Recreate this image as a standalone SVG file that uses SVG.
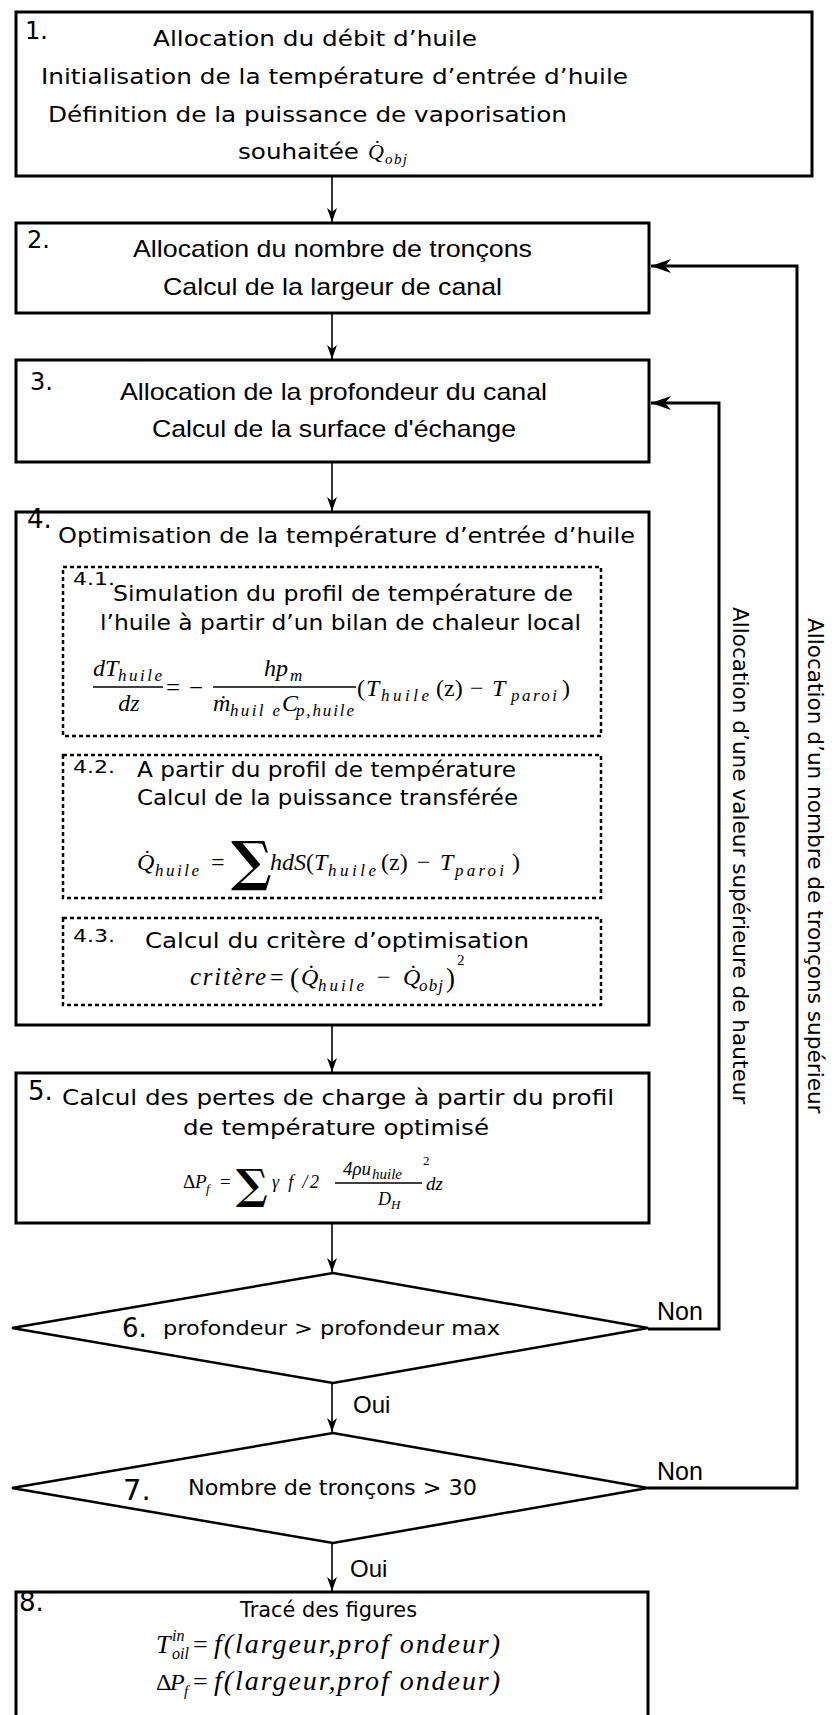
<svg xmlns="http://www.w3.org/2000/svg" width="835" height="1715" viewBox="0 0 835 1715">
<style>
.box{fill:#fff;stroke:#000;stroke-width:3}
.dash{fill:none;stroke:#000;stroke-width:2.5;stroke-dasharray:4 3}
.dia{fill:#fff;stroke:#000;stroke-width:2.5}
.thin{fill:none;stroke:#000;stroke-width:1.6}
.thick{fill:none;stroke:#000;stroke-width:3}
.v{font-family:"DejaVu Sans",Verdana,sans-serif;fill:#000}
.a{font-family:"Liberation Sans",Arial,sans-serif;fill:#000}
.m{font-family:"Liberation Serif","Times New Roman",serif;font-style:italic;fill:#000}
.r{font-family:"Liberation Serif","Times New Roman",serif;fill:#000}
.sig{font-family:"DejaVu Serif",serif;font-weight:bold;fill:#000}
.bar{stroke:#000;stroke-width:1.3}
</style>
<defs>
<marker id="ah" viewBox="0 0 14 10" refX="14" refY="5" markerWidth="14" markerHeight="10" markerUnits="userSpaceOnUse" orient="auto"><path d="M0,0 L14,5 L0,10 L4,5 Z" fill="#000"/></marker>
<marker id="ahb" viewBox="0 0 20 14" refX="20" refY="7" markerWidth="20" markerHeight="14" markerUnits="userSpaceOnUse" orient="auto"><path d="M0,0 L20,7 L0,14 L6,7 Z" fill="#000"/></marker>
</defs>

<g id="connectors">
<line class="thin" x1="332" y1="176" x2="332" y2="222" marker-end="url(#ah)"/>
<line class="thin" x1="332" y1="313" x2="332" y2="359" marker-end="url(#ah)"/>
<line class="thin" x1="332" y1="462" x2="332" y2="511" marker-end="url(#ah)"/>
<line class="thin" x1="332" y1="1025" x2="332" y2="1072" marker-end="url(#ah)"/>
<line class="thin" x1="332" y1="1223" x2="332" y2="1272" marker-end="url(#ah)"/>
<line class="thin" x1="332" y1="1383" x2="332" y2="1432" marker-end="url(#ah)"/>
<line class="thin" x1="332" y1="1543" x2="332" y2="1591" marker-end="url(#ah)"/>
<polyline class="thick" points="648,1329 719,1329 719,403 651,403" marker-end="url(#ahb)"/>
<polyline class="thick" points="648,1488 797,1488 797,266 651,266" marker-end="url(#ahb)"/>
<text class="a" x="353" y="1413" font-size="24">Oui</text>
<text class="a" x="350" y="1577" font-size="24">Oui</text>
<text class="a" x="657" y="1320" font-size="25">Non</text>
<text class="a" x="657" y="1480" font-size="25">Non</text>
<text class="v" font-size="21.6" transform="translate(733,607) rotate(90)">Allocation d’une valeur supérieure de hauteur</text>
<text class="v" font-size="21.6" transform="translate(808,618) rotate(90)">Allocation d’un nombre de tronçons supérieur</text>
</g>

<g id="n1">
<rect class="box" x="16" y="12" width="796" height="164"/>
<text class="v" x="25" y="39" font-size="24">1.</text>
<text class="v" x="153" y="46" font-size="21" textLength="324" lengthAdjust="spacingAndGlyphs">Allocation du débit d’huile</text>
<text class="v" x="41" y="84" font-size="21" textLength="587" lengthAdjust="spacingAndGlyphs">Initialisation de la température d’entrée d’huile</text>
<text class="v" x="48" y="122" font-size="21" textLength="519" lengthAdjust="spacingAndGlyphs">Définition de la puissance de vaporisation</text>
<text class="v" x="238" y="159" font-size="21" textLength="121" lengthAdjust="spacingAndGlyphs">souhaitée</text>
<text class="m" x="368" y="159" font-size="22">Q̇</text>
<text class="m" x="385" y="164" font-size="15" textLength="22">obj</text>
</g>

<g id="n2">
<rect class="box" x="16" y="223" width="633" height="90"/>
<text class="v" x="27" y="248" font-size="24">2.</text>
<text class="a" x="133" y="257" font-size="24" textLength="399" lengthAdjust="spacingAndGlyphs">Allocation du nombre de tronçons</text>
<text class="a" x="163" y="295" font-size="24" textLength="339" lengthAdjust="spacingAndGlyphs">Calcul de la largeur de canal</text>
</g>

<g id="n3">
<rect class="box" x="16" y="360" width="633" height="102"/>
<text class="v" x="30" y="390" font-size="24">3.</text>
<text class="a" x="120" y="400" font-size="24" textLength="427" lengthAdjust="spacingAndGlyphs">Allocation de la profondeur du canal</text>
<text class="a" x="152" y="437" font-size="24" textLength="364" lengthAdjust="spacingAndGlyphs">Calcul de la surface d'échange</text>
</g>

<g id="n4">
<rect class="box" x="16" y="512" width="633" height="513"/>
<text class="v" x="27" y="528" font-size="26">4.</text>
<text class="v" x="58" y="543" font-size="22" textLength="577" lengthAdjust="spacingAndGlyphs">Optimisation de la température d’entrée d’huile</text>
</g>

<g id="n4-1">
<rect class="dash" x="63" y="567" width="538" height="169"/>
<text class="v" x="73" y="585" font-size="17" textLength="42" lengthAdjust="spacingAndGlyphs">4.1.</text>
<text class="v" x="113" y="601" font-size="22" textLength="460" lengthAdjust="spacingAndGlyphs">Simulation du profil de température de</text>
<text class="v" x="100" y="630" font-size="22" textLength="481" lengthAdjust="spacingAndGlyphs">l’huile à partir d’un bilan de chaleur local</text>
<text class="m" x="93" y="676" font-size="24">dT</text>
<text class="m" x="118" y="681" font-size="17" textLength="44">huile</text>
<line class="bar" x1="93" y1="687" x2="163" y2="687"/>
<text class="m" x="129" y="711" font-size="24" text-anchor="middle">dz</text>
<text class="r" x="166" y="696" font-size="25">=</text>
<text class="r" x="189" y="696" font-size="25">−</text>
<line class="bar" x1="213" y1="687" x2="356" y2="687"/>
<text class="m" x="264" y="676" font-size="24">hp</text>
<text class="m" x="290" y="681" font-size="17">m</text>
<text class="m" x="213" y="711" font-size="24">ṁ</text>
<text class="m" x="230" y="716" font-size="17" textLength="50">huil e</text>
<text class="m" x="282" y="711" font-size="24">C</text>
<text class="m" x="296" y="716" font-size="17" textLength="58">p,huile</text>
<text class="r" x="357" y="696" font-size="24">(</text>
<text class="m" x="366" y="696" font-size="24">T</text>
<text class="m" x="381" y="701" font-size="17" textLength="48">huile</text>
<text class="r" x="436" y="696" font-size="24">(z)</text>
<text class="r" x="470" y="696" font-size="24">−</text>
<text class="m" x="492" y="696" font-size="24">T</text>
<text class="m" x="511" y="701" font-size="17" textLength="46">paroi</text>
<text class="r" x="562" y="696" font-size="24">)</text>
</g>

<g id="n4-2">
<rect class="dash" x="63" y="755" width="538" height="143"/>
<text class="v" x="73" y="773" font-size="17" textLength="42" lengthAdjust="spacingAndGlyphs">4.2.</text>
<text class="v" x="137" y="777" font-size="22" textLength="379" lengthAdjust="spacingAndGlyphs">A partir du profil de température</text>
<text class="v" x="137" y="805" font-size="22" textLength="381" lengthAdjust="spacingAndGlyphs">Calcul de la puissance transférée</text>
<text class="m" x="137" y="870" font-size="24">Q̇</text>
<text class="m" x="155" y="876" font-size="17" textLength="44">huile</text>
<text class="r" x="211" y="870" font-size="24">=</text>
<text class="sig" x="231" y="880" font-size="54">∑</text>
<text class="m" x="270" y="870" font-size="24" textLength="36">hdS</text>
<text class="r" x="306" y="870" font-size="24">(</text>
<text class="m" x="314" y="870" font-size="24">T</text>
<text class="m" x="328" y="876" font-size="17" textLength="48">huile</text>
<text class="r" x="381" y="870" font-size="24">(z)</text>
<text class="r" x="417" y="870" font-size="24">−</text>
<text class="m" x="440" y="870" font-size="24">T</text>
<text class="m" x="455" y="876" font-size="17" textLength="49">paroi</text>
<text class="r" x="512" y="870" font-size="24">)</text>
</g>

<g id="n4-3">
<rect class="dash" x="63" y="918" width="538" height="87"/>
<text class="v" x="73" y="942" font-size="17" textLength="42" lengthAdjust="spacingAndGlyphs">4.3.</text>
<text class="v" x="145" y="948" font-size="22" textLength="384" lengthAdjust="spacingAndGlyphs">Calcul du critère d’optimisation</text>
<text class="m" x="190" y="985" font-size="25" textLength="76">critère</text>
<text class="r" x="270" y="985" font-size="24">=</text>
<text class="r" x="290" y="987" font-size="27">(</text>
<text class="m" x="301" y="985" font-size="24">Q̇</text>
<text class="m" x="318" y="991" font-size="17" textLength="46">huile</text>
<text class="r" x="377" y="985" font-size="24">−</text>
<text class="m" x="403" y="985" font-size="24">Q̇</text>
<text class="m" x="419" y="991" font-size="17" textLength="24">obj</text>
<text class="r" x="446" y="987" font-size="27">)</text>
<text class="r" x="457" y="965" font-size="15">2</text>
</g>

<g id="n5">
<rect class="box" x="16" y="1073" width="633" height="150"/>
<text class="v" x="28" y="1100" font-size="26">5.</text>
<text class="v" x="62" y="1105" font-size="22" textLength="552" lengthAdjust="spacingAndGlyphs">Calcul des pertes de charge à partir du profil</text>
<text class="v" x="183" y="1135" font-size="22" textLength="306" lengthAdjust="spacingAndGlyphs">de température optimisé</text>
<text class="r" x="183" y="1188" font-size="19">Δ</text>
<text class="m" x="195" y="1188" font-size="19">P</text>
<text class="m" x="206" y="1193" font-size="13">f</text>
<text class="r" x="220" y="1188" font-size="19">=</text>
<text class="sig" x="236" y="1199" font-size="42">∑</text>
<text class="m" x="272" y="1188" font-size="18" textLength="47">γ f /2</text>
<text class="m" x="343" y="1175" font-size="19">4ρu</text>
<text class="m" x="372" y="1179" font-size="15">huile</text>
<text class="r" x="423" y="1165" font-size="13">2</text>
<line class="bar" x1="335" y1="1183" x2="422" y2="1183" stroke-width="1"/>
<text class="m" x="378" y="1205" font-size="18">D</text>
<text class="m" x="391" y="1209" font-size="13">H</text>
<text class="m" x="426" y="1190" font-size="19">dz</text>
</g>

<g id="n6">
<polygon class="dia" points="12,1328 333,1273 648,1328 333,1383"/>
<text class="v" x="122" y="1337" font-size="26">6.</text>
<text class="v" x="163" y="1335" font-size="20" textLength="337" lengthAdjust="spacingAndGlyphs">profondeur &gt; profondeur max</text>
</g>

<g id="n7">
<polygon class="dia" points="12,1488 333,1433 648,1488 333,1543"/>
<text class="v" x="123" y="1500" font-size="29">7.</text>
<text class="v" x="188" y="1495" font-size="21" textLength="289" lengthAdjust="spacingAndGlyphs">Nombre de tronçons &gt; 30</text>
</g>

<g id="n8">
<rect class="box" x="16" y="1592" width="632" height="128"/>
<text class="v" x="19" y="1611" font-size="26">8.</text>
<text class="v" x="240" y="1617" font-size="21" textLength="177" lengthAdjust="spacingAndGlyphs">Tracé des figures</text>
<text class="m" x="156" y="1653" font-size="26">T</text>
<text class="m" x="172" y="1641" font-size="16">in</text>
<text class="m" x="172" y="1659" font-size="16">oil</text>
<text class="r" x="193" y="1653" font-size="26">=</text>
<text class="m" x="214" y="1653" font-size="28" textLength="286">f(largeur,prof ondeur)</text>
<text class="r" x="156" y="1690" font-size="24">Δ</text>
<text class="m" x="170" y="1690" font-size="24">P</text>
<text class="m" x="184" y="1696" font-size="15">f</text>
<text class="r" x="193" y="1690" font-size="26">=</text>
<text class="m" x="214" y="1690" font-size="28" textLength="286">f(largeur,prof ondeur)</text>
</g>
</svg>
